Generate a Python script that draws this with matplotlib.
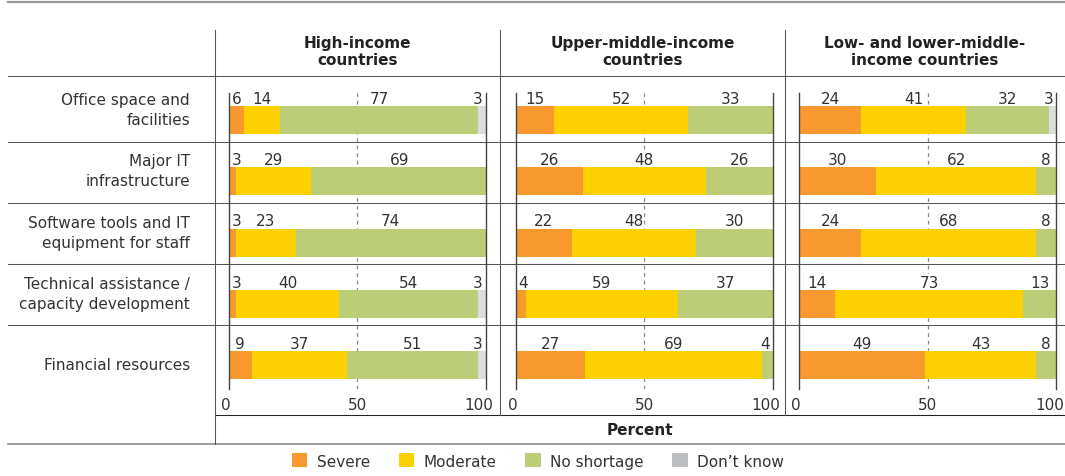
import matplotlib.pyplot as plt
from matplotlib.patches import Patch

# data (percent)
categories = ['Office space and\nfacilities', 'Major IT\ninfrastructure',
              'Software tools and IT\nequipment for staff',
              'Technical assistance /\ncapacity development', 'Financial resources']
groups = ['High-income\ncountries', 'Upper-middle-income\ncountries',
          'Low- and lower-middle-\nincome countries']
series = ['Severe', 'Moderate', 'No shortage', "Don\u2019t know"]

high_severe = [6, 3, 3, 3, 9]
high_moderate = [14, 29, 23, 40, 37]
high_none = [77, 69, 74, 54, 51]
high_dk = [3, 0, 0, 3, 3]

upper_severe = [15, 26, 22, 4, 27]
upper_moderate = [52, 48, 48, 59, 69]
upper_none = [33, 26, 30, 37, 4]
upper_dk = [0, 0, 0, 0, 0]

low_severe = [24, 30, 24, 14, 49]
low_moderate = [41, 62, 68, 73, 43]
low_none = [32, 8, 8, 13, 8]
low_dk = [3, 0, 0, 0, 0]

panels = [
    [high_severe, high_moderate, high_none, high_dk],
    [upper_severe, upper_moderate, upper_none, upper_dk],
    [low_severe, low_moderate, low_none, low_dk],
]

colors = ['#F7992F', '#FDD100', '#BBCE77', '#DCDDDE']
legend_colors = ['#F7992F', '#FDD100', '#BBCE77', '#BDBEC1']
txt = '#333333'
dark = '#555555'

plt.rcParams['font.family'] = 'DejaVu Sans'
W, H = 1065, 477
fig = plt.figure(figsize=(W / 100, H / 100), dpi=100)

# fondo con las lineas de la tabla, en pixeles
bg = fig.add_axes([0, 0, 1, 1])
bg.set_xlim(0, W)
bg.set_ylim(H, 0)
bg.axis('off')

lw = 0.75
bg.plot([8, W], [3, 3], color='#9A9A9A', lw=1.6)
bg.plot([8, W], [77, 77], color=dark, lw=lw)
for k in range(4):
    y = 142.7 + 61 * k
    bg.plot([8, W], [y, y], color=dark, lw=lw)
bg.plot([215, W], [416, 416], color='#222222', lw=lw)
bg.plot([8, W], [445, 445], color='#8A8A8A', lw=1.2)
bg.plot([215, 215], [31, 445], color=dark, lw=lw)
for x in [500, 785]:
    bg.plot([x, x], [31, 416], color=dark, lw=lw)

# encabezados
for xc, g in zip([357.5, 642.5, 925], groups):
    bg.text(xc, 52, g, ha='center', va='center', fontsize=11, fontweight='bold',
            color='#222222', linespacing=1.1)
bg.text(640, 431, 'Percent', ha='center', va='center', fontsize=11,
        fontweight='bold', color='#222222')

# etiquetas de filas
row_px = [121, 182, 244, 305, 366]
for yp, c in zip(row_px, categories):
    n = c.count('\n')
    bg.text(190, yp - n * 10.5, c, ha='right', va='center', fontsize=11,
            color=txt, linespacing=1.45)

# paneles
x0s = [228.7, 515.7, 799.3]
pw = 257
top, bot = 94, 390
bar_h = 28 / 61.25
rows = list(range(len(categories)))
for x0, data in zip(x0s, panels):
    ax = fig.add_axes([x0 / W, 1 - bot / H, pw / W, (bot - top) / H])
    ax.set_facecolor('none')
    ax.set_xlim(0, 100)
    ax.set_ylim(4 + 24 / 61.25, -27 / 61.25)
    ax.axvline(50, color='#888888', lw=0.9, ls=(0, (3, 3)), zorder=0)
    left = [0] * len(rows)
    for vals, col in zip(data, colors):
        ax.barh(rows, vals, left=left, height=bar_h, color=col, lw=0, zorder=2)
        for r, v, l in zip(rows, vals, left):
            if v <= 0:
                continue
            xc = min(max(l + v / 2, 3), 97)
            ax.text(xc, r - bar_h / 2 - 3 / 61.25, str(v), ha='center',
                    va='baseline', fontsize=11, color=txt, zorder=1,
                    bbox=dict(boxstyle='square,pad=0.05', fc='white', ec='none'))
        left = [a + b for a, b in zip(left, vals)]
    for s in ['top', 'bottom']:
        ax.spines[s].set_visible(False)
    for s in ['left', 'right']:
        ax.spines[s].set_color('#444444')
        ax.spines[s].set_linewidth(1.0)
    ax.set_xticks([])
    ax.set_yticks([])
    for t, dx in [(0, -3), (50, 0), (100, -7)]:
        ax.annotate(str(t), xy=(t, 0), xycoords=('data', 'axes fraction'),
                    xytext=(dx * 0.72, -15 * 0.72), textcoords='offset points',
                    ha='center', va='center', fontsize=11, color=txt)

handles = [Patch(facecolor=c, edgecolor='none', label=s)
           for c, s in zip(legend_colors, series)]
fig.legend(handles=handles, loc='center', bbox_to_anchor=(538 / W, 1 - 462 / H),
           ncol=4, frameon=False, fontsize=11, handlelength=1.0, handleheight=1.0,
           handletextpad=0.6, columnspacing=1.9, labelcolor=txt)

fig.savefig('out.png', dpi=100)
